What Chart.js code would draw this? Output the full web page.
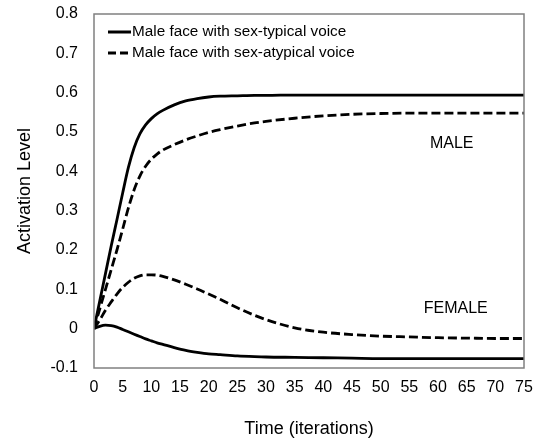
<!DOCTYPE html>
<html lang="en">
<head>
<meta charset="UTF-8">
<title>Activation Level over Time</title>
<script src="https://cdn.jsdelivr.net/npm/chart.js"></script>
<style>
  html, body { margin: 0; padding: 0; background: #fff; }
  #wrap { width: 543px; height: 444px; }
</style>
</head>
<body>
<div id="wrap"><canvas id="activation-chart" width="543" height="444"></canvas></div>
<script>
// values
const iterations = [0, 1, 2, 3, 4, 5, 6, 7, 8, 9, 10, 11, 12, 14, 16, 18, 20, 22, 25, 28, 30, 35, 40, 45, 50, 55, 60, 65, 70, 75];
const typicalMale = [0, 0.07, 0.14, 0.21, 0.277, 0.345, 0.41, 0.46, 0.495, 0.518, 0.534, 0.546, 0.555, 0.569, 0.579, 0.585, 0.589, 0.591, 0.592, 0.593, 0.593, 0.594, 0.594, 0.594, 0.594, 0.594, 0.594, 0.594, 0.594, 0.594];
const typicalFemale = [0, 0.006, 0.009, 0.008, 0.004, -0.002, -0.008, -0.014, -0.020, -0.026, -0.031, -0.036, -0.040, -0.048, -0.055, -0.060, -0.064, -0.066, -0.069, -0.071, -0.072, -0.073, -0.074, -0.075, -0.076, -0.076, -0.076, -0.076, -0.076, -0.076];
const atypicalMale = [0, 0.05, 0.10, 0.15, 0.20, 0.253, 0.307, 0.353, 0.388, 0.413, 0.431, 0.444, 0.454, 0.468, 0.480, 0.490, 0.499, 0.506, 0.515, 0.523, 0.527, 0.535, 0.541, 0.545, 0.547, 0.548, 0.548, 0.548, 0.548, 0.548];
const atypicalFemale = [0, 0.022, 0.047, 0.068, 0.088, 0.105, 0.118, 0.128, 0.134, 0.137, 0.137, 0.136, 0.133, 0.124, 0.113, 0.101, 0.088, 0.075, 0.053, 0.034, 0.023, 0.002, -0.009, -0.015, -0.019, -0.021, -0.023, -0.024, -0.025, -0.025];

const xTicks = [0, 5, 10, 15, 20, 25, 30, 35, 40, 45, 50, 55, 60, 65, 70, 75];
const yTicks = [-0.1, 0, 0.1, 0.2, 0.3, 0.4, 0.5, 0.6, 0.7, 0.8];

const legendLabels = ['Male face with sex-typical voice', 'Male face with sex-atypical voice'];
const curveLabels = [{ text: 'MALE', x: 62.4, y: 0.471 }, { text: 'FEMALE', x: 63.1, y: 0.052 }];

const FONT = '"Liberation Sans", Arial, sans-serif';

function toPoints(values) {
    return iterations.map((t, i) => ({ x: t, y: values[i] }));
}

function lineSet(label, values, dashed) {
    return {
        label: label,
        data: toPoints(values),
        borderColor: '#000',
        borderWidth: 2.8,
        borderDash: dashed ? [9, 4] : [],
        pointRadius: 0,
        fill: false,
        cubicInterpolationMode: 'monotone'
    };
}

const framePlugin = {
    id: 'frame',
    afterDatasetsDraw(chart) {
        const { ctx, chartArea: a } = chart;
        ctx.save();
        ctx.strokeStyle = '#808080';
        ctx.lineWidth = 1.5;
        ctx.strokeRect(a.left, a.top, a.width, a.height);

        // curve labels
        const xs = chart.scales.x, ys = chart.scales.y;
        ctx.fillStyle = '#000';
        ctx.strokeStyle = '#000';
        ctx.font = '16px ' + FONT;
        ctx.textAlign = 'center';
        ctx.textBaseline = 'middle';
        curveLabels.forEach(l => {
            ctx.fillText(l.text, xs.getPixelForValue(l.x), ys.getPixelForValue(l.y));
        });

        // legend in the top left corner
        ctx.font = '15.3px ' + FONT;
        ctx.textAlign = 'left';
        legendLabels.forEach((txt, i) => {
            const y = a.top + 18 + i * 21;
            ctx.beginPath();
            ctx.lineWidth = 3;
            ctx.setLineDash(i === 0 ? [] : [8, 4]);
            ctx.moveTo(a.left + 14, y);
            ctx.lineTo(a.left + 37, y);
            ctx.stroke();
            ctx.setLineDash([]);
            ctx.fillText(txt, a.left + 38, y);
        });
        ctx.restore();
    }
};

new Chart(document.getElementById('activation-chart').getContext('2d'), {
    type: 'line',
    data: {
        datasets: [
            lineSet(legendLabels[0], typicalMale, false),
            lineSet(legendLabels[0], typicalFemale, false),
            lineSet(legendLabels[1], atypicalMale, true),
            lineSet(legendLabels[1], atypicalFemale, true)
        ]
    },
    options: {
        responsive: false,
        animation: false,
        layout: { padding: { top: 14, right: 19, left: 0, bottom: 0 } },
        plugins: { legend: { display: false }, tooltip: { enabled: false } },
        scales: {
            x: {
                type: 'linear',
                min: 0,
                max: 75,
                afterBuildTicks: axis => { axis.ticks = xTicks.map(v => ({ value: v })); },
                afterFit: scale => { scale.height = 76; scale.paddingLeft = 0; scale.paddingRight = 0; },
                grid: { display: false, drawTicks: false },
                border: { display: false },
                ticks: { color: '#000', font: { family: FONT, size: 16 }, padding: 10, maxRotation: 0, autoSkip: false },
                title: { display: true, text: 'Time (iterations)', color: '#000', font: { family: FONT, size: 18 }, padding: { top: 0, bottom: 4 } }
            },
            y: {
                min: -0.1,
                max: 0.8,
                afterBuildTicks: axis => { axis.ticks = yTicks.map(v => ({ value: v })); },
                afterFit: scale => { scale.width = 94; scale.paddingTop = 0; scale.paddingBottom = 0; },
                grid: { display: false, drawTicks: false },
                border: { display: false },
                ticks: {
                    color: '#000',
                    font: { family: FONT, size: 16 },
                    padding: 16,
                    callback: v => String(Number(v.toFixed(1)))
                },
                title: { display: true, text: 'Activation Level', color: '#000', font: { family: FONT, size: 18 }, padding: { top: 14, bottom: 0 } }
            }
        }
    },
    plugins: [framePlugin]
});
</script>
</body>
</html>
